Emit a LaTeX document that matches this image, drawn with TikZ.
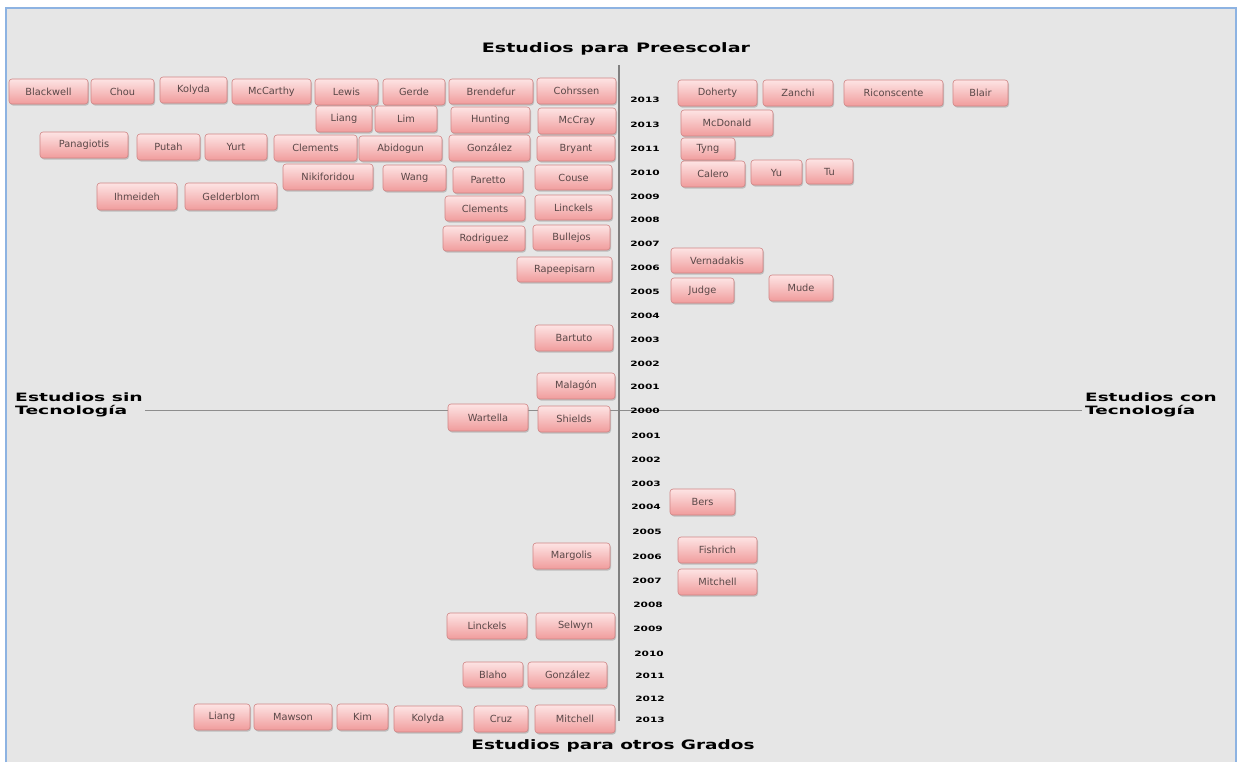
\documentclass[tikz,border=0pt]{standalone}
\usepackage{fontspec}
\usepackage{graphicx}
\setmainfont{DejaVu Sans}
\usetikzlibrary{shadows}
\definecolor{bg}{HTML}{E6E6E6}
\definecolor{framec}{HTML}{8DB3E2}
\definecolor{pinktop}{HTML}{FDE4E4}
\definecolor{pinkbot}{HTML}{F09C9C}
\definecolor{pinkdraw}{HTML}{D08585}
\definecolor{txt}{HTML}{5A4848}
\definecolor{axisc}{HTML}{808080}
\tikzset{
  pbox/.style={rounded corners=3pt, draw=pinkdraw, line width=0.6pt,
    top color=pinktop, bottom color=pinkbot,
    drop shadow={shadow xshift=1pt, shadow yshift=-1.5pt, opacity=0.4},
    font=\fontsize{9.8}{10}\selectfont, text=txt, inner sep=0pt},
  yr/.style={font=\bfseries\fontsize{7.3}{8}\selectfont, text=black, inner sep=0pt},
  head/.style={font=\bfseries\fontsize{13}{14}\selectfont, text=black, inner sep=0pt},
  side/.style={font=\bfseries\fontsize{11.5}{13}\selectfont, text=black, inner sep=0pt, align=left, anchor=west}
}
\newcommand\pb[6]{\node[pbox, minimum width={(#4-#2)*1pt}, minimum height={(#5-#3)*1pt}] (#1) at ({(#2+#4)/2},{-(#3+#5)/2}) {#6};}
\newcommand\yrn[4]{\node[yr] (#1) at (#2,-#3) {\scalebox{1.45}[1]{#4}};}
\begin{document}
\begin{tikzpicture}[x=1pt,y=1pt]
\useasboundingbox (0,0) rectangle (1240,-764);
\fill[white] (0,0) rectangle (1240,-764);
\fill[bg] (6,-8) rectangle (1236,-762);
\draw[framec, line width=2pt] (6,-762) -- (6,-8) -- (1236,-8) -- (1236,-762);

% axes
\coordinate (hl) at (145,-410);
\coordinate (hr) at (1082,-410);
\coordinate (vt) at (619,-65);
\coordinate (vb) at (619,-721);
\draw[axisc!90, line width=0.9pt] (hl) -- (hr);
\draw[axisc, line width=1.8pt] (vt) -- (vb);

% headings
\node[head] (ttop) at (616,-49) {\scalebox{1.47}[1]{Estudios para Preescolar}};
\node[head] (tbot) at (613,-746) {\scalebox{1.42}[1]{Estudios para otros Grados}};
\node[side] (tleft) at (15,-405) {\scalebox{1.63}[1]{Estudios sin}\\\scalebox{1.63}[1]{Tecnología}};
\node[side] (tright) at (1085,-405) {\scalebox{1.6}[1]{Estudios con}\\\scalebox{1.6}[1]{Tecnología}};

% years
\yrn{ya}{645}{100}{2013}
\yrn{yb}{645}{125}{2013}
\yrn{yc}{645}{149}{2011}
\yrn{yd}{645}{173}{2010}
\yrn{ye}{645}{197}{2009}
\yrn{yf}{645}{220}{2008}
\yrn{yg}{645}{244}{2007}
\yrn{yh}{645}{268}{2006}
\yrn{yi}{645}{292}{2005}
\yrn{yj}{645}{316}{2004}
\yrn{yk}{645}{340}{2003}
\yrn{yl}{645}{364}{2002}
\yrn{ym}{645}{387}{2001}
\yrn{yn}{645}{411}{2000}
\yrn{yo}{646}{436}{2001}
\yrn{yp}{646}{460}{2002}
\yrn{yq}{646}{484}{2003}
\yrn{yr1}{646}{507}{2004}
\yrn{ys}{647}{532}{2005}
\yrn{yt}{647}{557}{2006}
\yrn{yu}{647}{581}{2007}
\yrn{yv}{648}{605}{2008}
\yrn{yw}{648}{629}{2009}
\yrn{yx}{649}{654}{2010}
\yrn{yy}{650}{676}{2011}
\yrn{yz}{650}{699}{2012}
\yrn{yzz}{650}{720}{2013}

% top-left boxes
\pb{a1}{9}{79}{88}{104}{Blackwell}
\pb{a2}{91}{79}{154}{104}{Chou}
\pb{a3}{160}{77}{227}{103}{Kolyda}
\pb{a4}{232}{79}{311}{104}{McCarthy}
\pb{a5}{315}{79}{378}{105}{Lewis}
\pb{a6}{383}{79}{445}{105}{Gerde}
\pb{a7}{449}{79}{533}{104}{Brendefur}
\pb{a8}{537}{78}{616}{104}{Cohrssen}
\pb{b1}{316}{106}{372}{132}{Liang}
\pb{b2}{375}{106}{437}{132}{Lim}
\pb{b3}{451}{107}{530}{133}{Hunting}
\pb{b4}{538}{108}{616}{134}{McCray}
\pb{c1}{40}{132}{128}{158}{Panagiotis}
\pb{c2}{137}{134}{200}{160}{Putah}
\pb{c3}{205}{134}{267}{160}{Yurt}
\pb{c4}{274}{135}{357}{161}{Clements}
\pb{c5}{359}{136}{442}{161}{Abidogun}
\pb{c6}{449}{135}{530}{161}{González}
\pb{c7}{537}{136}{615}{161}{Bryant}
\pb{d1}{283}{164}{373}{190}{Nikiforidou}
\pb{d2}{383}{165}{446}{191}{Wang}
\pb{d3}{453}{167}{523}{193}{Paretto}
\pb{d4}{535}{165}{612}{190}{Couse}
\pb{e1}{97}{183}{177}{210}{Ihmeideh}
\pb{e2}{185}{183}{277}{210}{Gelderblom}
\pb{e3}{445}{196}{525}{221}{Clements}
\pb{e4}{535}{195}{612}{220}{Linckels}
\pb{f1}{443}{226}{525}{251}{Rodriguez}
\pb{f2}{533}{225}{610}{250}{Bullejos}
\pb{g1}{517}{257}{612}{282}{Rapeepisarn}
\pb{h1}{535}{325}{613}{351}{Bartuto}
\pb{h2}{537}{373}{615}{399}{Malagón}

% top-right boxes
\pb{r1}{678}{80}{757}{106}{Doherty}
\pb{r2}{763}{80}{833}{106}{Zanchi}
\pb{r3}{844}{80}{943}{106}{Riconscente}
\pb{r4}{953}{80}{1008}{106}{Blair}
\pb{r5}{681}{110}{773}{136}{McDonald}
\pb{r6}{681}{138}{735}{160}{Tyng}
\pb{r7}{681}{161}{745}{187}{Calero}
\pb{r8}{751}{160}{802}{185}{Yu}
\pb{r9}{806}{159}{853}{184}{Tu}
\pb{r10}{671}{248}{763}{273}{Vernadakis}
\pb{r11}{671}{278}{734}{303}{Judge}
\pb{r12}{769}{275}{833}{301}{Mude}

% lower-left boxes
\pb{l1}{448}{404}{528}{431}{Wartella}
\pb{l2}{538}{406}{610}{432}{Shields}
\pb{l3}{533}{543}{610}{569}{Margolis}
\pb{l4}{447}{613}{527}{639}{Linckels}
\pb{l5}{536}{613}{615}{639}{Selwyn}
\pb{l6}{463}{662}{523}{687}{Blaho}
\pb{l7}{528}{662}{607}{688}{González}
\pb{l8}{194}{704}{250}{730}{Liang}
\pb{l9}{254}{704}{332}{730}{Mawson}
\pb{l10}{337}{704}{388}{730}{Kim}
\pb{l11}{394}{706}{462}{732}{Kolyda}
\pb{l12}{474}{706}{528}{732}{Cruz}
\pb{l13}{535}{705}{615}{733}{Mitchell}

% lower-right boxes
\pb{m1}{670}{489}{735}{515}{Bers}
\pb{m2}{678}{537}{757}{563}{Fishrich}
\pb{m3}{678}{569}{757}{595}{Mitchell}
\end{tikzpicture}
\end{document}
